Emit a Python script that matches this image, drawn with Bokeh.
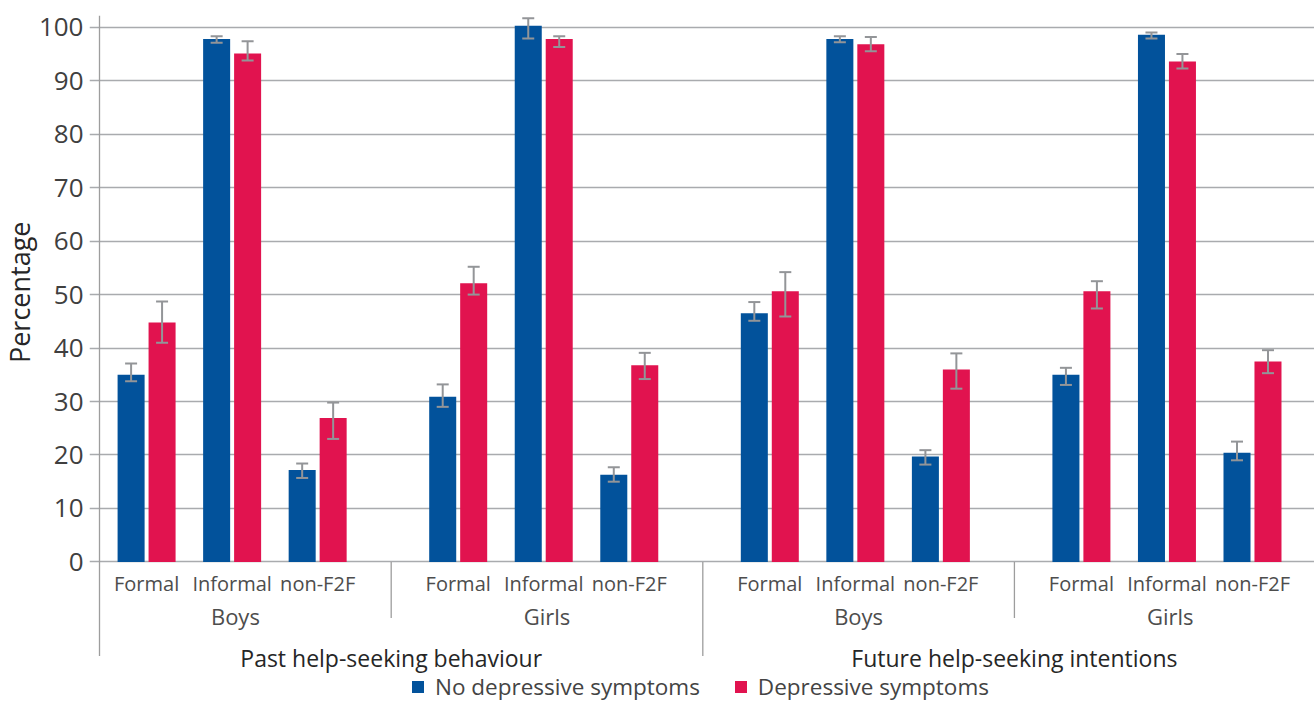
from bokeh.core.properties import value
from bokeh.embed import file_html
from bokeh.models import (ColumnDataSource, FixedTicker, Legend, LegendItem,
                          Range1d, TeeHead, Title, Whisker)
from bokeh.plotting import figure
from bokeh.resources import INLINE

# ---- data -------------------------------------------------------------
sections = ["Past help-seeking behaviour", "Future help-seeking intentions"]
genders = ["Boys", "Girls"]
categories = ["Formal", "Informal", "non-F2F"]

# one value per (section, gender, category), in that nesting order
no_dep = [35.0, 97.8, 17.2, 30.9, 100.3, 16.3, 46.5, 97.8, 19.7, 35.0, 98.6, 20.4]
no_dep_lo = [33.8, 97.1, 15.7, 29.0, 97.9, 15.0, 45.1, 97.2, 18.2, 33.1, 97.9, 19.0]
no_dep_hi = [37.1, 98.3, 18.4, 33.2, 101.7, 17.7, 48.6, 98.3, 20.9, 36.3, 99.0, 22.5]

dep = [44.8, 95.1, 26.9, 52.1, 97.8, 36.8, 50.6, 96.8, 36.0, 50.6, 93.6, 37.5]
dep_lo = [41.0, 93.8, 23.0, 50.0, 96.3, 34.2, 45.9, 95.5, 32.4, 47.4, 92.3, 35.3]
dep_hi = [48.7, 97.4, 29.8, 55.2, 98.3, 39.1, 54.2, 98.2, 39.0, 52.5, 95.0, 39.6]

y_ticks = [0, 10, 20, 30, 40, 50, 60, 70, 80, 90, 100]

# ---- layout (x in units of one gender group) ---------------------------
CAT_START = 0.215     # first category centre inside a group
CAT_STEP = 0.2745     # distance between category centres
BAR_W = 0.0867
PAIR_OFF = 0.0497
AXIS_X = 0.0639       # where the value axis line sits
X_START, X_END = 0.0318, 3.963
Y_START, Y_END = -26.3, 102.2

BLUE = "#02529b"
RED = "#e1134f"
GRID = "#a9abae"
WHISK = "#939598"
FONT = "Open Sans"

n_groups = len(sections) * len(genders)
centers, cat_labels = [], []
for g in range(n_groups):
    for k, c in enumerate(categories):
        centers.append(g + CAT_START + k * CAT_STEP)
        cat_labels.append(c)

src_no = ColumnDataSource(dict(
    x=[c - PAIR_OFF for c in centers], top=no_dep, lo=no_dep_lo, hi=no_dep_hi))
src_dep = ColumnDataSource(dict(
    x=[c + PAIR_OFF for c in centers], top=dep, lo=dep_lo, hi=dep_hi))

p = figure(width=1314, height=702,
           x_range=Range1d(X_START, X_END), y_range=Range1d(Y_START, Y_END),
           output_backend="svg", toolbar_location=None,
           min_border_left=89, min_border_right=0,
           min_border_top=15, min_border_bottom=0)
p.outline_line_color = None
p.background_fill_color = "white"
p.border_fill_color = "white"

# value axis: labels only, grid lines double as tick marks
p.xaxis.visible = False
p.xgrid.visible = False
p.yaxis.ticker = FixedTicker(ticks=y_ticks)
p.yaxis.axis_line_color = None
p.yaxis.major_tick_line_color = None
p.yaxis.minor_tick_line_color = None
p.yaxis.major_tick_out = 0
p.yaxis.major_tick_in = 0
p.yaxis.major_label_standoff = 6
p.yaxis.major_label_text_font = FONT
p.yaxis.major_label_text_font_size = "26px"
p.yaxis.major_label_text_color = "#3f3f3f"
p.ygrid.ticker = FixedTicker(ticks=y_ticks)
p.ygrid.grid_line_color = GRID
p.ygrid.grid_line_width = 1.5

# y axis title, placed so it sits centred on the 0-100 scale
p.add_layout(Title(text="Percentage", align="right", offset=206,
                   text_font=FONT, text_font_size="27px",
                   text_font_style="normal", text_color="#262626",
                   standoff=-4), "left")

# bars
r_no = p.vbar(x="x", top="top", width=BAR_W, source=src_no,
              fill_color=BLUE, line_color=None)
r_dep = p.vbar(x="x", top="top", width=BAR_W, source=src_dep,
               fill_color=RED, line_color=None)

# error bars, drawn on top of the bars
for src in (src_no, src_dep):
    w = Whisker(base="x", lower="lo", upper="hi", source=src,
                line_color=WHISK, line_width=2, level="annotation",
                upper_head=TeeHead(size=12, line_color=WHISK, line_width=2),
                lower_head=TeeHead(size=12, line_color=WHISK, line_width=2))
    p.add_layout(w)

# value axis line, running down through the category labels
p.segment(x0=[AXIS_X], y0=[-17.6], x1=[AXIS_X], y1=[Y_END],
          line_color="#9d9d9d", line_width=1.3)

# separators between gender groups and between sections
sep_x = [g for g in range(1, n_groups)]
sep_bottom = [-17.6 if g % len(genders) == 0 else -10.5 for g in sep_x]
p.segment(x0=sep_x, y0=[0] * len(sep_x), x1=sep_x, y1=sep_bottom,
          line_color="#9d9d9d", line_width=1.3)

# category, gender and section labels
p.text(x=centers, y=[-4.1] * len(centers), text=cat_labels,
       text_align="center", text_baseline="middle",
       text_font=value(FONT), text_font_size="20px", text_color="#4d4d4d")

g_x = [g + 0.5 for g in range(n_groups)]
g_text = [genders[g % len(genders)] for g in range(n_groups)]
p.text(x=g_x, y=[-10.1] * n_groups, text=g_text,
       text_align="center", text_baseline="middle",
       text_font=value(FONT), text_font_size="22px", text_color="#4d4d4d")

s_x = [len(genders) * s + len(genders) / 2 for s in range(len(sections))]
p.text(x=s_x, y=[-18.0] * len(sections), text=sections,
       text_align="center", text_baseline="middle",
       text_font=value(FONT), text_font_size="23px", text_color="#262626")

legend = Legend(items=[LegendItem(label="No depressive symptoms", renderers=[r_no]),
                       LegendItem(label="Depressive symptoms", renderers=[r_dep])],
                orientation="horizontal", location=(321, 0),
                glyph_width=15, glyph_height=15, label_standoff=10,
                spacing=33, padding=0, margin=0,
                border_line_color=None, background_fill_alpha=0,
                label_text_font=FONT, label_text_font_size="22.5px",
                label_text_color="#444444")
p.add_layout(legend)

open("out.html", "w").write(file_html(p, INLINE))
